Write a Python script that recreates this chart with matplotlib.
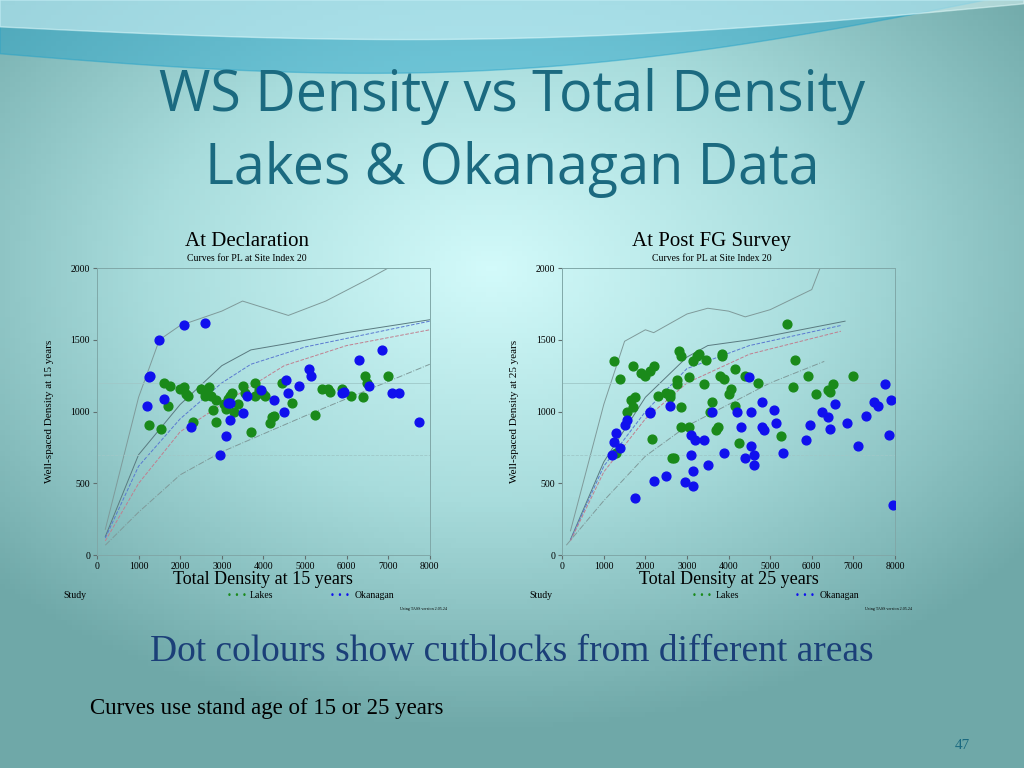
import numpy as np
import matplotlib.pyplot as plt
from matplotlib.colors import LinearSegmentedColormap

# ---------------- data ----------------
# left panel: at declaration (15 years)
lakes15_x = [1250,1550,1600,1700,1750,2000,2100,2150,2200,2300,2500,2600,2650,2700,2750,2800,2850,2850,3050,3100,
             3150,3200,3250,3300,3400,3500,3550,3700,3800,3800,3900,3950,4000,4050,4150,4200,4250,4450,4700,5250,
             5400,5550,5600,5900,6100,6400,6450,6500,7000]
lakes15_y = [910,880,1200,1040,1180,1160,1170,1120,1110,930,1160,1110,1150,1170,1110,1010,930,1080,1050,1020,
             1090,1110,1130,1000,1050,1180,1130,860,1200,1110,1150,1140,1120,1110,920,960,970,1200,1060,980,
             1160,1160,1140,1160,1110,1100,1250,1200,1250]
okan15_x = [1200,1250,1270,1500,1600,2100,2250,2600,2950,3100,3150,3200,3200,3500,3600,3950,4250,4500,4550,4600,
            4850,5100,5150,5900,5950,6300,6550,6850,7100,7250,7750]
okan15_y = [1040,1240,1250,1500,1090,1600,890,1620,700,830,1060,940,1060,990,1110,1150,1080,1000,1220,1130,
            1180,1300,1250,1130,1140,1360,1180,1430,1130,1130,930]

# right panel: post FG survey (25 years)
lakes25_x = [1250,1300,1400,1550,1650,1700,1700,1750,1900,2000,2100,2150,2200,2300,2500,2600,2600,2650,2700,2750,
             2750,2800,2850,2850,2850,3050,3050,3150,3250,3300,3400,3450,3550,3600,3700,3750,3800,3850,3850,3900,
             4000,4050,4150,4150,4250,4400,4700,5250,5400,5550,5600,5900,6100,6400,6450,6500,7000]
lakes25_y = [1350,710,1230,1000,1080,1030,1320,1100,1270,1250,1280,810,1320,1110,1130,1100,1120,680,680,1190,
             1220,1420,1390,1030,890,890,1240,1350,1390,1400,1190,1360,1000,1070,870,890,1250,1400,1390,1230,
             1120,1160,1300,1040,780,1250,1200,830,1610,1170,1360,1250,1120,1150,1140,1190,1250]
okan25_x = [1200,1250,1300,1400,1500,1550,1750,2100,2100,2200,2500,2600,2950,3100,3100,3150,3150,3200,3400,3500,
            3600,3900,4200,4300,4400,4500,4550,4550,4600,4600,4800,4800,4850,5100,5150,5300,5850,5950,6250,6400,
            6450,6550,6850,7100,7300,7500,7600,7750,7850,7900,7950]
okan25_y = [700,790,850,750,910,940,400,990,1000,520,550,1040,510,700,840,480,590,800,800,630,
            1000,710,1000,890,680,1240,760,1000,700,630,1070,890,870,1010,920,710,800,910,1000,960,
            880,1050,920,760,970,1070,1040,1190,840,1080,350]

# reference curves (x, y) for each panel
curves15 = [
    ([200,1000,1500,2000,3000,3500,4600,5500,6500,7000], [180,1100,1500,1600,1700,1770,1670,1770,1920,2000], '-', '#7f9a9a'),
    ([200,1000,2000,3000,3700,4500,6000,8000], [130,700,1050,1320,1430,1470,1550,1640], '-', '#5a7a80'),
    ([200,1000,2000,3000,3700,5000,8000], [120,620,950,1200,1330,1450,1630], '--', '#5a7ad0'),
    ([200,1000,2000,3000,4500,6000,8000], [100,500,860,1050,1320,1460,1570], '--', '#c08090'),
    ([200,1000,2000,3000,5000,6500,8000], [70,300,560,720,970,1150,1330], '-.', '#7f9a9a'),
]
curves25 = [
    ([200,1000,1500,2000,2200,3000,3500,4000,4400,5000,6000,6200], [170,1050,1490,1570,1550,1680,1720,1700,1660,1710,1850,2000], '-', '#7f9a9a'),
    ([200,1000,2000,3000,3500,4500,6800], [110,650,1100,1380,1460,1500,1630], '-', '#5a7a80'),
    ([200,1000,2000,3000,4500,6700], [105,620,1000,1300,1460,1600], '--', '#5a7ad0'),
    ([200,1000,2000,3000,4500,6700], [100,580,950,1200,1400,1560], '--', '#c08090'),
    ([100,1000,2000,3000,4000,5000,6300], [70,380,690,900,1050,1200,1350], '-.', '#7f9a9a'),
]

# ---------------- figure ----------------
fig = plt.figure(figsize=(10.24, 7.68), dpi=100)

# background gradient
bg = fig.add_axes([0, 0, 1, 1], zorder=-10)
bg.axis('off')
gx, gy = np.meshgrid(np.linspace(0, 1, 200), np.linspace(0, 1, 150))
g = np.clip(1 - np.hypot(gx - 0.48, (gy - 0.35) * 1.1) * 1.5, 0, 1)
cmap = LinearSegmentedColormap.from_list('bg', ['#6fa8a8', '#a8dcdc', '#d2fafa'])
bg.imshow(g, cmap=cmap, extent=[0, 1, 0, 1], aspect='auto', origin='upper')
# wave decoration at the top
t = np.linspace(0, 1, 300)
bg.fill_between(t, 1.0, 0.93 - 0.06 * np.sin(np.pi * t) + 0.08 * t, color='#1fa0c8', alpha=0.45)
bg.fill_between(t, 1.0, 0.965 - 0.03 * np.sin(np.pi * t) + 0.03 * t, color='#e8ffff', alpha=0.5)
bg.set_xlim(0, 1)
bg.set_ylim(0, 1)

fig.text(0.5, 0.874, "WS Density vs Total Density", ha='center', va='center',
         fontsize=40, color='#1b6a80', family='Open Sans')
fig.text(0.5, 0.779, "Lakes & Okanagan Data", ha='center', va='center',
         fontsize=40, color='#1b6a80', family='Open Sans')
fig.text(0.5, 0.152, "Dot colours show cutblocks from different areas", ha='center', va='center',
         fontsize=27, color='#1b3f78', family='Liberation Serif')
fig.text(0.088, 0.078, "Curves use stand age of 15 or 25 years", ha='left', va='center',
         fontsize=16.5, color='black', family='Liberation Serif')
fig.text(0.94, 0.029, "47", ha='center', va='center', fontsize=11, color='#1b6a80', family='Liberation Serif')


def panel(left, title, age, lx, ly, ox, oy, curves):
    ax = fig.add_axes([left, 0.277, 0.325, 0.374])
    ax.set_facecolor('none')
    for xs, ys, ls, c in curves:
        ax.plot(xs, ys, ls, color=c, lw=0.7)
    ax.axhline(1200, color='#9fc8c8', lw=0.6)
    ax.axhline(700, color='#9fc8c8', lw=0.6, ls='--')
    ax.scatter(lx, ly, s=40, color='#1a8a1a', zorder=3)
    ax.scatter(ox, oy, s=40, color='#1010ee', zorder=3)
    ax.set_xlim(0, 8000)
    ax.set_ylim(0, 2000)
    ax.set_xticks(range(0, 8001, 1000))
    ax.set_yticks([0, 500, 1000, 1500, 2000])
    ax.tick_params(labelsize=7, length=3, pad=2, color='#607070')
    for lab in ax.get_xticklabels() + ax.get_yticklabels():
        lab.set_family('Liberation Serif')
    for s in ax.spines.values():
        s.set_color('#80a8a8')
        s.set_linewidth(0.7)
    ax.set_xlabel("Total Density at %d years" % age, fontsize=13, family='Liberation Serif', labelpad=0)
    ax.set_ylabel("Well-spaced Density at %d years" % age, fontsize=8, family='Liberation Serif', labelpad=12)
    ax.text(0.45, 1.075, title, transform=ax.transAxes, ha='center', fontsize=15, family='Liberation Serif')
    ax.text(0.45, 1.025, "Curves for PL at Site Index 20", transform=ax.transAxes, ha='center',
            fontsize=7, family='Liberation Serif')
    ax.text(-0.1, -0.15, "Study", transform=ax.transAxes, fontsize=7, family='Liberation Serif')
    ax.text(0.39, -0.15, "• • •", transform=ax.transAxes, fontsize=6, color='#1a8a1a')
    ax.text(0.46, -0.15, "Lakes", transform=ax.transAxes, fontsize=7, family='Liberation Serif')
    ax.text(0.70, -0.15, "• • •", transform=ax.transAxes, fontsize=6, color='#1010ee')
    ax.text(0.775, -0.15, "Okanagan", transform=ax.transAxes, fontsize=7, family='Liberation Serif')
    ax.text(0.91, -0.19, "Using TASS version 2.05.24", transform=ax.transAxes, fontsize=3,
            family='Liberation Serif')
    return ax


panel(0.0947, "At Declaration", 15, lakes15_x, lakes15_y, okan15_x, okan15_y, curves15)
panel(0.549, "At Post FG Survey", 25, lakes25_x, lakes25_y, okan25_x, okan25_y, curves25)

fig.savefig("out.png", dpi=100)
